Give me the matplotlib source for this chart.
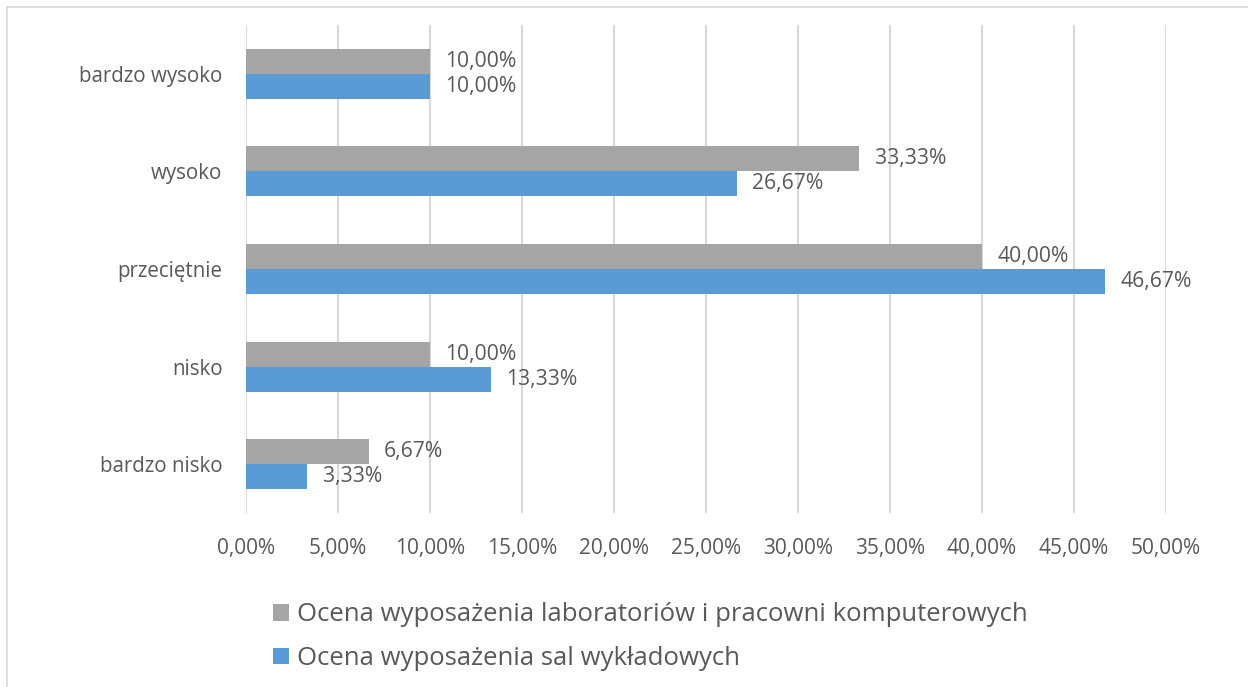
import matplotlib
matplotlib.use("Agg")
import matplotlib.pyplot as plt
from matplotlib.patches import Patch
from matplotlib.lines import Line2D
import numpy as np

categories = ["bardzo nisko", "nisko", "przeciętnie", "wysoko", "bardzo wysoko"]
lab_values = [6.67, 10.00, 40.00, 33.33, 10.00]
lecture_values = [3.33, 13.33, 46.67, 26.67, 10.00]
series_names = ["Ocena wyposażenia laboratoriów i pracowni komputerowych",
                "Ocena wyposażenia sal wykładowych"]
xticks = [0, 5, 10, 15, 20, 25, 30, 35, 40, 45, 50]

GRAY = "#A5A5A5"
BLUE = "#5B9BD5"
TXT = "#595959"
GRID = "#D9D9D9"

plt.rcParams['font.family'] = ['Open Sans', 'DejaVu Sans']

W, H = 1248, 687
fig = plt.figure(figsize=(W / 100, H / 100), dpi=100)
ax = fig.add_axes([246 / W, 1 - 513 / H, (1166 - 246) / W, (513 - 25) / H])

y = np.arange(len(categories))
bh = 0.256
b1 = ax.barh(y + bh / 2, lab_values, height=bh, color=GRAY, zorder=3)
b2 = ax.barh(y - bh / 2, lecture_values, height=bh, color=BLUE, zorder=3)

fmt = lambda v: f"{v:.2f}%".replace(".", ",")
for bars, vals in ((b1, lab_values), (b2, lecture_values)):
    ax.bar_label(bars, labels=[fmt(v) for v in vals], padding=11,
                 fontsize=15.2, color=TXT)

ax.set_xlim(0, 50)
ax.set_ylim(-0.5, len(categories) - 0.5)
ax.set_xticks(xticks)
ax.set_xticklabels([fmt(v) for v in xticks], fontsize=15, color=TXT)
ax.set_yticks(y)
ax.set_yticklabels(categories, fontsize=14.8, color=TXT)
ax.tick_params(axis="both", length=0)
ax.tick_params(axis="x", pad=18)
ax.tick_params(axis="y", pad=17)
for s in ax.spines.values():
    s.set_visible(False)
ax.xaxis.grid(True, color=GRID, linewidth=1.5, zorder=0)
ax.set_axisbelow(True)

handles = [Patch(facecolor=GRAY, edgecolor="none", label=series_names[0]),
           Patch(facecolor=BLUE, edgecolor="none", label=series_names[1])]
leg = fig.legend(handles=handles, loc="upper left",
                 bbox_to_anchor=(263 / W, 1 - 592 / H),
                 frameon=False, fontsize=18.5, labelcolor=TXT,
                 handlelength=0.62, handleheight=0.62, handletextpad=0.3,
                 labelspacing=0.73, borderaxespad=0)

# outer chart frame (left and top visible)
fig.add_artist(Line2D([7 / W, 7 / W], [0, 1 - 7 / H], color="#D9D9D9", lw=1.2))
fig.add_artist(Line2D([7 / W, 1], [1 - 7 / H, 1 - 7 / H], color="#D9D9D9", lw=1.2))

fig.savefig("out.png", dpi=100)
